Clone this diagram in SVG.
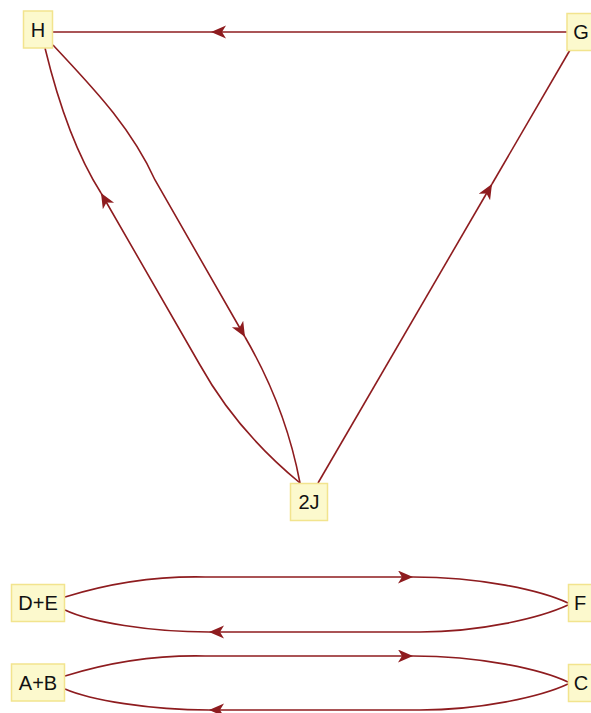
<svg xmlns="http://www.w3.org/2000/svg" width="591" height="713" viewBox="0 0 591 713">
<style>
.node rect{fill:#fcf9cd;stroke:#f2e48e;stroke-width:1.5}
.node text{font-family:"Liberation Sans",Arial,sans-serif;font-size:20px;fill:#111;text-anchor:middle;dominant-baseline:central}
.edge path{fill:none;stroke:#8e1c1f;stroke-width:1.6}
</style>
<defs>
<marker id="ah" markerUnits="userSpaceOnUse" markerWidth="16" markerHeight="14" refX="15" refY="6.5" orient="auto">
<path d="M0,0 L15,6.5 L0,13 L4,6.5 z" fill="#8e1c1f"/>
</marker>
</defs>
<rect width="591" height="713" fill="#fff"/>
<g id="connectors" class="edge">
<path d="M567,32 L211,32" marker-end="url(#ah)"/>
<path d="M211,32 L52,32"/>
<path d="M53,45 C90,85 130,125 155,180 L245,337" marker-end="url(#ah)"/>
<path d="M245,337 C270,380 290,430 300,483"/>
<path d="M300,483 C260,450 225,410 200,365 L101,193" marker-end="url(#ah)"/>
<path d="M101,193 C80,160 60,110 45,48"/>
<path d="M318,483 L492,184" marker-end="url(#ah)"/>
<path d="M492,184 L570,50"/>
<path d="M65,597 C110,583 160,576 205,577 L413,577" marker-end="url(#ah)"/>
<path d="M413,577 C480,577 540,590 568,603"/>
<path d="M568,605 C540,618 480,632 420,632 L209,632" marker-end="url(#ah)"/>
<path d="M209,632 C150,632 90,622 65,610"/>
<path d="M65,676 C110,662 160,655 205,656 L413,656" marker-end="url(#ah)"/>
<path d="M413,656 C480,656 540,669 568,682"/>
<path d="M568,684 C540,697 480,710 420,710 L209,710" marker-end="url(#ah)"/>
<path d="M209,710 C150,710 90,700 65,689"/>
</g>
<g id="H" class="node"><rect x="23.5" y="11" width="29" height="37"/><text x="38" y="30">H</text></g>
<g id="G" class="node"><rect x="567" y="13.5" width="30" height="37"/><text x="581" y="32">G</text></g>
<g id="2J" class="node"><rect x="290.5" y="483.5" width="37" height="37"/><text x="309" y="502">2J</text></g>
<g id="DE" class="node"><rect x="11.5" y="584.5" width="53" height="37"/><text x="38" y="603">D+E</text></g>
<g id="F" class="node"><rect x="568.5" y="584.5" width="28" height="37"/><text x="580" y="603">F</text></g>
<g id="AB" class="node"><rect x="11.5" y="664" width="53" height="37"/><text x="38" y="682.5">A+B</text></g>
<g id="C" class="node"><rect x="568.5" y="664.5" width="28" height="37"/><text x="581" y="683">C</text></g>
</svg>
